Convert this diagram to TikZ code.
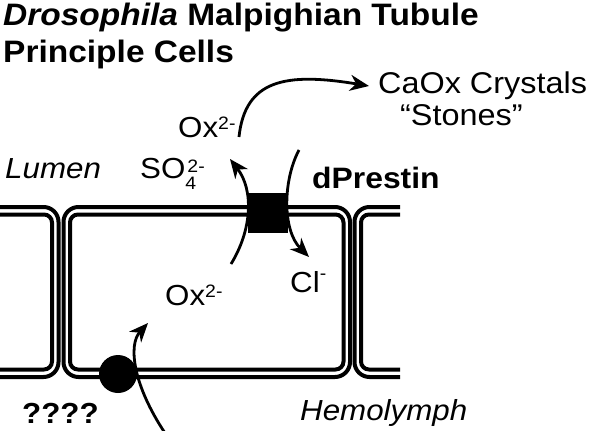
\documentclass[tikz,border=0pt]{standalone}
\usepackage{fontspec}
\setmainfont{Liberation Sans}[FakeStretch=1.08]
\usetikzlibrary{arrows.meta}
\newcommand\supx[2]{\raisebox{#1}{\fontsize{18}{18}\selectfont #2}}
\tikzset{
  membrane/.style={line width=4pt},
  flow/.style={line width=2.8pt, -{Stealth[length=19pt,width=16pt,inset=6pt]}},
  lbl/.style={anchor=base west, inner sep=0pt, font=\fontsize{29}{29}\selectfont},
  ttl/.style={anchor=base west, inner sep=0pt, font=\fontsize{31}{31}\selectfont\bfseries},
  transporter/.style={fill=black, inner sep=0pt, minimum size=40pt},
  carrierdot/.style={circle, fill=black, inner sep=0pt, minimum size=38pt},
}
\begin{document}
\begin{tikzpicture}[x=1pt,y=-1pt]
\useasboundingbox (0,0) rectangle (590,431);
\fill[white] (0,0) rectangle (590,431);
% membranes
\begin{scope}
\clip (0,0) rectangle (590,431);
% left cell
\draw[membrane, rounded corners=15pt] (-20,207) -- (58.5,207) -- (58.5,377) -- (-20,377);
\draw[membrane, rounded corners=8pt] (-20,214.5) -- (52,214.5) -- (52,369.5) -- (-20,369.5);
% middle cell
\draw[membrane, rounded corners=15pt] (63.5,207) rectangle (350,377);
\draw[membrane, rounded corners=8pt] (70,214.5) rectangle (343.5,369.5);
% right cell
\draw[membrane, rounded corners=15pt] (400,207) -- (354.5,207) -- (354.5,377) -- (400,377);
\draw[membrane, rounded corners=8pt] (400,214.5) -- (361,214.5) -- (361,369.5) -- (400,369.5);
\end{scope}
% transporters
\node[transporter] (prestin) at (268,213) {};
\node[carrierdot] (carrier) at (118,374) {};
% texts
\node[ttl] (title1) at (3,26) {\itshape Drosophila\upshape{} Malpighian Tubule};
\node[ttl] (title2) at (3,63) {Principle Cells};
\node[lbl, font=\fontsize{30}{30}\selectfont] (crystals) at (378,93) {CaOx Crystals};
\node[lbl, font=\fontsize{30}{30}\selectfont] (stones) at (400,125) {“Stones”};
\node[lbl] (oxlumen) at (178,137) {Ox\supx{8pt}{2-}};
\node[lbl] (lumen) at (5,178) {\itshape Lumen};
\node[lbl] (so4) at (140,178) {SO\rlap{\supx{-11pt}{4}}\hspace{2pt}\supx{6pt}{2-}};
\node[lbl, font=\fontsize{29.5}{29.5}\selectfont\bfseries] (dprestin) at (312,188) {dPrestin};
\node[lbl] (cl) at (290,292) {Cl\supx{13pt}{-}};
\node[lbl] (oxcell) at (165,305) {Ox\supx{8pt}{2-}};
\node[lbl, font=\fontsize{29}{29}\selectfont\bfseries] (unknown) at (22,423) {????};
\node[lbl] (hemo) at (300,420) {\itshape Hemolymph};
% arrow end points
\coordinate (inS) at (165,433);
\coordinate (inE) at (148,323);
\coordinate (oxS) at (231,264);
\coordinate (oxE) at (230,159);
\coordinate (clS) at (299,150);
\coordinate (clE) at (309,257);
\coordinate (crS) at (239,137);
\coordinate (crE) at (369,86);
% arrows
\draw[flow] (inS) .. controls (133,385) and (128,345) .. (inE);
\draw[flow] (oxS) .. controls (252,230) and (254,190) .. (oxE);
\draw[flow] (clS) .. controls (283,180) and (282,230) .. (clE);
\draw[flow] (crS) .. controls (245,80) and (285,72) .. (crE);
\end{tikzpicture}
\end{document}
